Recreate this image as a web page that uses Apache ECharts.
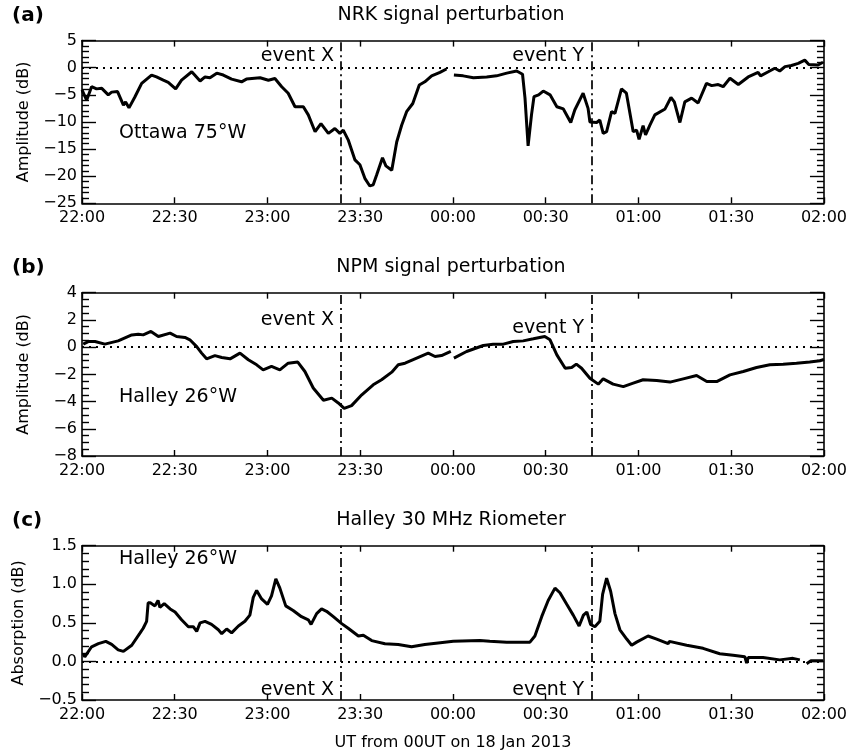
<!DOCTYPE html>
<html>
<head>
<meta charset="utf-8">
<script src="https://cdn.jsdelivr.net/npm/echarts@6/dist/echarts.min.js"></script>
<style>html,body{margin:0;padding:0;background:#fff}#c{width:850px;height:752px}</style>
</head>
<body>
<div id="c"></div>
<script>
// ---- data (minutes after 22:00 UT, value) ----
const timeLabels = ['22:00','22:30','23:00','23:30','00:00','00:30','01:00','01:30','02:00'];
const eventX = 83.7;   // ~23:24 UT
const eventY = 165;    // 00:45 UT

const nrkData = [[0,-4.1],[1.5,-6.0],[3.1,-3.5],[4.7,-3.9],[6.4,-3.8],[8.5,-5.0],[9.6,-4.5],[11.5,-4.4],[13.4,-6.9],[14.1,-6.3],[15.2,-7.4],[17.1,-5.4],[19.3,-2.9],[22.5,-1.35],[24.1,-1.7],[26.3,-2.3],[27.9,-2.7],[30.3,-3.9],[32.2,-2.3],[35.5,-0.74],[38.2,-2.45],[39.8,-1.7],[41.4,-1.85],[43.6,-1.0],[45.7,-1.35],[48.4,-2.1],[51.6,-2.6],[53.2,-2.1],[57.6,-1.85],[60.3,-2.3],[62.4,-2.0],[64.6,-3.5],[66.7,-4.7],[68.9,-7.2],[71.6,-7.2],[73.2,-8.7],[75.4,-11.8],[77.3,-10.3],[79.7,-12.1],[81.8,-11.2],[83.4,-12.1],[84.5,-11.5],[86.1,-13.3],[88.3,-17.0],[89.9,-17.9],[91.5,-20.4],[93.1,-21.8],[94.2,-21.6],[95.3,-19.8],[97.2,-16.6],[98.3,-18.1],[100.2,-18.9],[101.8,-13.7],[103.4,-10.6],[105,-8.1],[107,-6.6],[109.1,-3.2],[110.9,-2.6],[113.1,-1.5],[115.8,-0.85],[117.9,-0.24],[119,null],[120.3,-1.35],[123.3,-1.5],[126.6,-1.85],[130.9,-1.7],[134.1,-1.5],[137.4,-1.0],[140.6,-0.6],[142.5,-1.2],[143.3,-5.6],[144.3,-14.4],[145.4,-8.7],[146.2,-5.35],[147.7,-5.0],[149.2,-4.3],[151.4,-5.0],[153.6,-7.2],[155.7,-7.6],[158.1,-10.1],[159.4,-7.8],[162.1,-4.7],[163.7,-7.5],[164.3,-10.0],[166.5,-10.1],[167.5,-9.65],[168.6,-12.1],[169.7,-11.8],[171.3,-8.1],[172.4,-8.4],[174.5,-3.9],[176.1,-4.7],[178.3,-11.8],[179.4,-11.5],[180.2,-13.2],[181.5,-10.7],[182.3,-12.4],[183.7,-10.6],[185.3,-8.7],[188.6,-7.6],[190.5,-5.5],[191.6,-6.3],[193.4,-10.1],[195,-6.3],[197.2,-5.6],[199.3,-6.5],[202,-2.9],[203.7,-3.3],[205.8,-3.1],[207.4,-3.5],[209.6,-1.95],[212.3,-3.1],[215.5,-1.7],[218.7,-0.85],[219.5,-1.5],[222,-0.74],[224.1,-0.1],[225.7,-0.6],[227.4,0.2],[229.5,0.4],[231.7,0.8],[233.8,1.4],[235.1,0.6],[238.1,0.5],[239.7,1.0]];

const npmData = [[0.4,0.22],[2,0.41],[4.2,0.41],[7.4,0.22],[11.7,0.46],[16.1,0.9],[18.2,0.95],[19.8,0.9],[22.3,1.15],[24.7,0.78],[28.5,1.03],[30.6,0.78],[33.3,0.71],[34.9,0.54],[37.1,0.04],[38.7,-0.44],[40.3,-0.86],[43,-0.62],[45.2,-0.76],[47.9,-0.86],[51.1,-0.44],[53.8,-0.93],[56.5,-1.3],[58.6,-1.67],[61.3,-1.42],[64,-1.67],[66.7,-1.18],[69.8,-1.1],[72.1,-1.79],[74.8,-3.0],[78.1,-3.9],[80.8,-3.75],[82.9,-4.1],[84.8,-4.5],[87.2,-4.3],[90.5,-3.5],[94.2,-2.77],[96.9,-2.4],[100.2,-1.84],[102.3,-1.3],[104.5,-1.18],[107.7,-0.86],[112,-0.44],[114.2,-0.69],[116.3,-0.62],[119.3,-0.32],[119.8,null],[120.3,-0.81],[124.4,-0.32],[129.8,0.12],[133,0.22],[136.3,0.22],[139.5,0.41],[142.7,0.46],[146,0.61],[149.7,0.78],[151.4,0.54],[153.6,-0.57],[156.3,-1.55],[158.4,-1.5],[159.9,-1.25],[161.6,-1.55],[164.3,-2.28],[167,-2.72],[168.6,-2.33],[171.8,-2.72],[175.1,-2.9],[178.3,-2.65],[181.5,-2.4],[185.9,-2.45],[190.2,-2.57],[194.5,-2.33],[198.8,-2.09],[202.1,-2.53],[205.3,-2.53],[209.6,-2.04],[213.9,-1.79],[218.2,-1.5],[222.5,-1.3],[226.8,-1.25],[231.1,-1.18],[235.4,-1.1],[238.7,-1.0],[240,-0.9]];

const rioData = [[0.4,0.10],[0.9,0.06],[3.1,0.19],[5.3,0.23],[7.7,0.26],[9.6,0.22],[11.7,0.15],[13.4,0.13],[16.1,0.21],[18.8,0.37],[19.8,0.43],[20.9,0.52],[21.4,0.76],[22.1,0.76],[23.6,0.72],[24.6,0.79],[25.2,0.70],[26.6,0.75],[28.5,0.68],[30.1,0.64],[32.2,0.54],[34.4,0.45],[36,0.45],[37.1,0.39],[38.2,0.50],[39.8,0.52],[41.9,0.48],[44.1,0.41],[45.2,0.36],[46.8,0.42],[48.4,0.37],[50.6,0.46],[52.7,0.52],[54.3,0.60],[55.4,0.83],[56.5,0.92],[58.1,0.81],[60,0.74],[61.3,0.85],[62.7,1.07],[64,0.95],[65.9,0.72],[68.3,0.66],[71,0.58],[73.2,0.54],[74.1,0.48],[75.9,0.62],[77.5,0.68],[79.1,0.65],[81.3,0.58],[84,0.49],[86.1,0.43],[89.4,0.33],[91,0.34],[93.7,0.27],[98,0.23],[102.3,0.22],[106.6,0.19],[110.9,0.22],[115.2,0.24],[120.1,0.26],[128.7,0.27],[131.9,0.26],[137.4,0.25],[144.9,0.25],[146.5,0.33],[148.7,0.58],[150.8,0.79],[153,0.95],[154.6,0.89],[156.8,0.74],[158.9,0.60],[160.8,0.46],[162.2,0.60],[163.3,0.64],[164.5,0.48],[165.9,0.45],[167.5,0.52],[168.4,0.87],[169.7,1.08],[171,0.91],[172.4,0.62],[174,0.41],[176.2,0.29],[177.8,0.21],[179.4,0.25],[183.1,0.33],[185.9,0.29],[189.6,0.23],[190,0.26],[195.6,0.21],[200.9,0.17],[206.3,0.10],[210.6,0.08],[214.4,0.06],[215,-0.02],[215.5,0.05],[220.3,0.05],[225.7,0.02],[230,0.04],[232.2,0.02],[233.3,null],[234.4,-0.03],[235.8,0.01],[239.8,0.01]];

const panelTitles = ['NRK signal perturbation','NPM signal perturbation','Halley 30 MHz Riometer'];
const panelTags = ['(a)','(b)','(c)'];
const yNames = ['Amplitude (dB)','Amplitude (dB)','Absorption (dB)'];
const stationLabels = ['Ottawa 75°W','Halley 26°W','Halley 26°W'];
const xTitle = 'UT from 00UT on 18 Jan 2013';

// ---- layout ----
const FONT = 'DejaVu Sans';
const G = [
  {top: 40.6, height: 162.7, ymin: -25, ymax: 5, yint: 5, minor: 5, dec: 0},
  {top: 292.7, height: 163.3, ymin: -8, ymax: 4, yint: 2, minor: 4, dec: 0},
  {top: 545.7, height: 162.3, ymin: -0.5, ymax: 1.5, yint: 0.5, minor: 5, dec: 1}
];
const LEFT = 82, WIDTH = 742;
const datasets = [nrkData, npmData, rioData];

const fmtNum = (v, d) => { const s = v.toFixed(d); return s.replace('-', '\u2212'); };

const grid = [], xAxis = [], yAxis = [], series = [];
G.forEach((g, i) => {
  grid.push({left: LEFT, top: g.top, width: WIDTH, height: g.height, containLabel: false});
  const base = {
    type: 'value', gridIndex: i, min: 0, max: 240, interval: 30,
    axisLine: {show: true, onZero: false, lineStyle: {color: '#000', width: 1.6}},
    axisTick: {show: true, inside: true, length: 6, lineStyle: {color: '#000', width: 1.4}},
    splitLine: {show: false}
  };
  xAxis.push(Object.assign({}, base, {position: 'bottom',
    axisLabel: {show: true, margin: 7, color: '#000', fontFamily: FONT, fontSize: 16,
      formatter: v => timeLabels[Math.round(v / 30)]},
    name: i === 2 ? xTitle : '', nameLocation: 'middle', nameGap: 35,
    nameTextStyle: {color: '#000', fontFamily: FONT, fontSize: 16}}));
  xAxis.push(Object.assign({}, base, {position: 'top', axisLabel: {show: false}}));
  const ybase = {
    type: 'value', gridIndex: i, min: g.ymin, max: g.ymax, interval: g.yint,
    axisLine: {show: true, onZero: false, lineStyle: {color: '#000', width: 1.6}},
    axisTick: {show: true, inside: true, length: 14, lineStyle: {color: '#000', width: 1.4}},
    minorTick: {show: true, splitNumber: g.minor, length: 7, lineStyle: {color: '#000', width: 1.4}},
    splitLine: {show: false}, minorSplitLine: {show: false}
  };
  yAxis.push(Object.assign({}, ybase, {position: 'left',
    axisLabel: {show: true, margin: 5, color: '#000', fontFamily: FONT, fontSize: 16,
      formatter: v => fmtNum(v, g.dec)},
    name: yNames[i], nameLocation: 'middle', nameGap: 50, nameRotate: 90,
    nameTextStyle: {color: '#000', fontFamily: FONT, fontSize: 16}}));
  yAxis.push(Object.assign({}, ybase, {position: 'right', axisLabel: {show: false}}));

  series.push({
    type: 'line', xAxisIndex: 2 * i, yAxisIndex: 2 * i,
    data: datasets[i].map(p => [p[0], p[1] === null ? '-' : p[1]]),
    showSymbol: false, symbol: 'none', connectNulls: false, smooth: false,
    lineStyle: {color: '#000', width: 3}, z: 5,
    markLine: {
      silent: true, symbol: 'none', animation: false,
      label: {show: false},
      data: [
        {yAxis: 0, lineStyle: {type: [2, 5], color: '#000', width: 2}},
        {xAxis: eventX, lineStyle: {type: [9, 4, 2, 4], color: '#000', width: 1.7}},
        {xAxis: eventY, lineStyle: {type: [9, 4, 2, 4], color: '#000', width: 1.7}}
      ]
    }
  });
});

// ---- texts ----
const graphic = [];
const txt = (text, x, y, opts) => Object.assign({type: 'text', x: x, y: y, silent: true,
  style: Object.assign({text: text, fill: '#000', font: '19px "' + FONT + '"',
    textAlign: 'left', textVerticalAlign: 'middle', align: 'left', verticalAlign: 'middle'}, opts || {})});
const eventLabelY = [56, 320, 690];
const stationY = [133, 397, 559];
G.forEach((g, i) => {
  graphic.push(txt(panelTitles[i], LEFT + WIDTH / 2 - 2, g.top - 26, {textAlign: 'center', align: 'center'}));
  graphic.push(txt(panelTags[i], 12, g.top - 25, {font: 'bold 20px "' + FONT + '"'}));
  graphic.push(txt('event X', 334, eventLabelY[i], {textAlign: 'right', align: 'right'}));
  graphic.push(txt('event Y', 584, i === 1 ? 328 : eventLabelY[i], {textAlign: 'right', align: 'right'}));
  graphic.push(txt(stationLabels[i], 119, stationY[i]));
});

const chart = echarts.init(document.getElementById('c'), null, {renderer: 'canvas'});
chart.setOption({animation: false, backgroundColor: '#fff', grid, xAxis, yAxis, series, graphic});
</script>
</body>
</html>
